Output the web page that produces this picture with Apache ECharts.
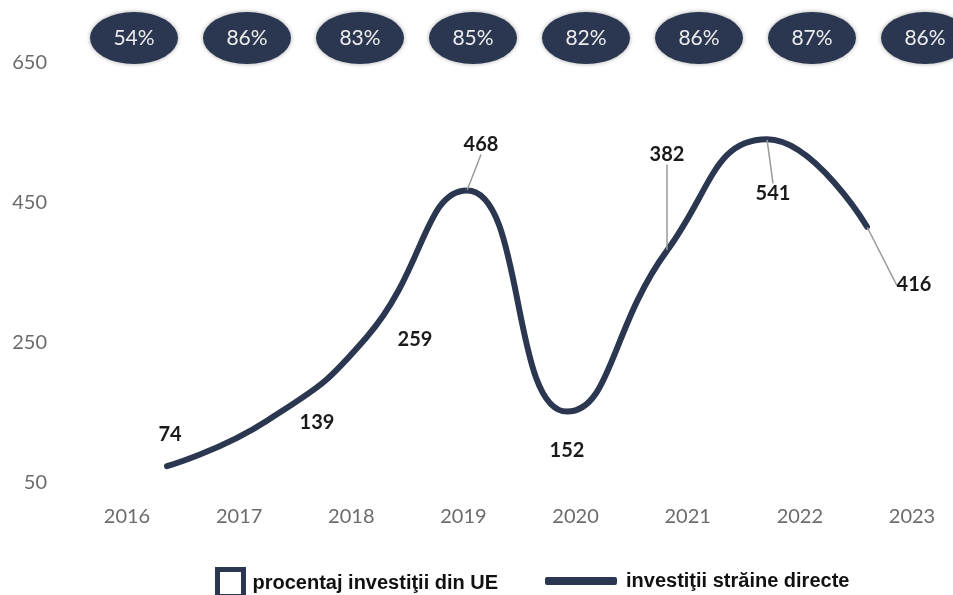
<!DOCTYPE html>
<html><head><meta charset="utf-8">
<script src="https://cdn.jsdelivr.net/npm/echarts@6/dist/echarts.min.js"></script>
<style>html,body{margin:0;padding:0;background:#fff}#c{width:953px;height:595px}</style>
</head><body><div id="c"></div>
<script>
// ---- data ----
const years = ['2016', '2017', '2018', '2019', '2020', '2021', '2022', '2023'];
const fdiValues = [74, 139, 259, 468, 152, 382, 541, 416];
const euShare = [54, 86, 83, 85, 82, 86, 87, 86];
const yMin = 50, yMax = 650, yStep = 200;
const nameShare = 'procentaj investiţii din UE';
const nameFdi = 'investiţii străine directe';

// ---- style ----
const navy = '#2b3750';
const labelOffsets = [[3, -32], [50, 2], [48, 3], [14, -46], [0, 39], [0, -96], [6, 54], [47, 58]];
const withLeader = [false, false, false, true, false, true, true, true];

const chart = echarts.init(document.getElementById('c'), null, {renderer: 'canvas'});
const hiddenAxis = {show: false};
chart.setOption({
  backgroundColor: '#fff',
  animation: false,
  grid: [
    {left: 127, right: 41, top: 63, bottom: 112},
    {left: 167, right: 86, top: 63, bottom: 112},
    {left: 134, right: 28, top: 13, height: 50}
  ],
  xAxis: [
    {type: 'category', gridIndex: 0, data: years, boundaryGap: false,
     axisLine: {show: false}, axisTick: {show: false}, splitLine: {show: false},
     axisLabel: {color: '#6b6b6b', fontFamily: 'Lato', fontSize: 20, margin: 24}},
    Object.assign({type: 'category', gridIndex: 1, data: years, boundaryGap: false}, hiddenAxis),
    Object.assign({type: 'category', gridIndex: 2, data: years, boundaryGap: false}, hiddenAxis)
  ],
  yAxis: [
    {type: 'value', gridIndex: 0, min: yMin, max: yMax, interval: yStep,
     axisLine: {show: false}, axisTick: {show: false}, splitLine: {show: false},
     axisLabel: {color: '#6b6b6b', fontFamily: 'Lato', fontSize: 20, margin: 80}},
    Object.assign({type: 'value', gridIndex: 1, min: yMin, max: yMax, interval: yStep}, hiddenAxis),
    Object.assign({type: 'category', gridIndex: 2, data: ['UE']}, hiddenAxis)
  ],
  legend: [
    {left: 210, top: 562, itemWidth: 26, itemHeight: 27, itemGap: 0,
     data: [{name: nameShare, icon: 'rect',
             itemStyle: {color: '#fff', borderColor: navy, borderWidth: 5, opacity: 1}}],
     textStyle: {fontFamily: 'Liberation Sans', fontWeight: 'bold', fontSize: 20, color: '#111', padding: [0, 0, 0, 4]},
     selectedMode: false},
    {left: 540, top: 566, itemWidth: 72, itemHeight: 8, itemGap: 0,
     data: [{name: nameFdi, icon: 'roundRect', itemStyle: {color: navy}}],
     textStyle: {fontFamily: 'Liberation Sans', fontWeight: 'bold', fontSize: 20, color: '#111', padding: [0, 0, 0, 4]},
     selectedMode: false}
  ],
  series: [
    {
      name: nameShare, type: 'scatter', xAxisIndex: 2, yAxisIndex: 2, clip: false,
      symbol: 'path://M0,50 A50,50 0 1,1 100,50 A50,50 0 1,1 0,50 Z',
      symbolSize: [88, 52], symbolKeepAspect: false,
      itemStyle: {color: navy, opacity: 1, shadowBlur: 4, shadowColor: 'rgba(0,0,0,0.35)'},
      label: {show: true, position: 'inside', color: '#ececec', fontFamily: 'Lato', fontSize: 21,
              formatter: p => p.value[2] + '%'},
      data: euShare.map((v, i) => [years[i], 'UE', v])
    },
    {
      name: nameFdi, type: 'line', xAxisIndex: 1, yAxisIndex: 1, smooth: 0.5,
      symbol: 'circle', symbolSize: 1, showSymbol: true,
      lineStyle: {color: navy, width: 6, cap: 'round'},
      itemStyle: {color: navy},
      label: {show: true, position: 'inside', color: '#1a1a1a', fontFamily: 'Lato',
              fontWeight: 'bold', fontSize: 20},
      labelLine: {show: true, lineStyle: {color: '#9a9a9a', width: 1.5}},
      labelLayout: p => ({dx: labelOffsets[p.dataIndex][0], dy: labelOffsets[p.dataIndex][1]}),
      data: fdiValues.map((v, i) => ({value: v, labelLine: {show: withLeader[i]}}))
    }
  ]
});
</script></body></html>
